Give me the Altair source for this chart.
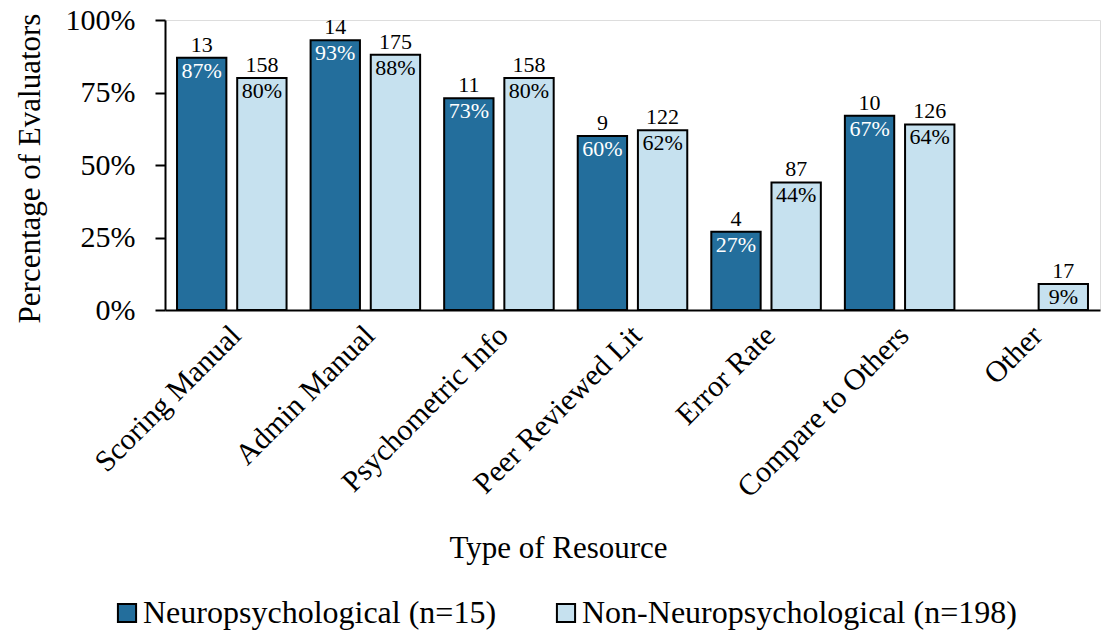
import altair as alt
import pandas as pd

# Resource categories on the x axis
categories = [
    "Scoring Manual", "Admin Manual", "Psychometric Info", "Peer Reviewed Lit",
    "Error Rate", "Compare to Others", "Other",
]
groups = ["Neuropsychological (n=15)", "Non-Neuropsychological (n=198)"]

# Percent of evaluators using each resource, and the raw counts
neuro_pct = [87, 93, 73, 60, 27, 67, None]
neuro_count = [13, 14, 11, 9, 4, 10, None]
non_pct = [80, 88, 80, 62, 44, 64, 9]
non_count = [158, 175, 158, 122, 87, 126, 17]

rows = []
for i, cat in enumerate(categories):
    if neuro_pct[i] is not None:
        rows.append({"cat": cat, "group": groups[0], "pct": neuro_pct[i] / 100, "count": neuro_count[i]})
    rows.append({"cat": cat, "group": groups[1], "pct": non_pct[i] / 100, "count": non_count[i]})
df = pd.DataFrame(rows)

FONT = "Liberation Serif"
DARK = "#236E9C"
LIGHT = "#C6E1EF"

x_enc = alt.X(
    "cat:N", sort=categories,
    scale=alt.Scale(paddingInner=0.18, paddingOuter=0.09),
    axis=alt.Axis(
        title="Type of Resource", labelAngle=-45, labelAlign="right", labelBaseline="top",
        labelPadding=10, labelOffset=-6, labelFontSize=30, labelLimit=600,
        titleFontSize=31, ticks=False,
        titleX=393, titleY=238, titleAlign="center", titleBaseline="middle",
        domainColor="black", domainWidth=2, labelColor="black", titleColor="black",
        titleFontWeight="normal", labelFont=FONT, titleFont=FONT,
    ),
)
xoff_enc = alt.XOffset("group:N", scale=alt.Scale(domain=groups, paddingInner=0.18))
y_enc = alt.Y(
    "pct:Q",
    scale=alt.Scale(domain=[0, 1]),
    axis=alt.Axis(
        title="Percentage of Evaluators", values=[0, 0.25, 0.5, 0.75, 1], format=".0%",
        grid=False, tickSize=10, tickWidth=2, tickColor="black", labelPadding=20,
        labelFontSize=30, titleFontSize=31, domainColor="black", domainWidth=2,
        titleX=-135, titleY=148, titleAngle=-90, titleAlign="center", titleBaseline="middle",
        labelColor="black", titleColor="black", titleFontWeight="normal",
        labelFont=FONT, titleFont=FONT,
    ),
)

bars = alt.Chart(df).mark_bar(stroke="black", strokeWidth=2).encode(
    x=x_enc,
    xOffset=xoff_enc,
    y=y_enc,
    color=alt.Color(
        "group:N",
        scale=alt.Scale(domain=groups, range=[DARK, LIGHT]),
        legend=alt.Legend(
            title=None, orient="none", direction="horizontal", legendX=-54, legendY=577,
            symbolType="square", symbolSize=330, symbolStrokeColor="black",
            symbolStrokeWidth=2, labelFontSize=32, labelFont=FONT, labelColor="black",
            columnPadding=53, labelOffset=0, labelLimit=600,
        ),
    ),
)

count_labels = alt.Chart(df).mark_text(
    baseline="bottom", dy=-1, fontSize=22, font=FONT, color="black"
).encode(x=alt.X("cat:N", sort=categories), xOffset=xoff_enc, y="pct:Q", text="count:Q")

pct_labels = alt.Chart(df).mark_text(
    baseline="top", dy=3, fontSize=22, font=FONT
).encode(
    x=alt.X("cat:N", sort=categories),
    xOffset=xoff_enc,
    y="pct:Q",
    text=alt.Text("pct:Q", format=".0%"),
    color=alt.condition(alt.datum.group == groups[0], alt.value("white"), alt.value("black")),
)

chart = alt.layer(bars, count_labels, pct_labels).properties(
    width=935, height=290,
    autosize=alt.AutoSizeParams(type="none"),
    padding={"left": 165, "top": 20, "right": 4, "bottom": 321},
).configure_view(stroke=None).configure(background="white")

chart.save("out.html", embed_options={"renderer": "svg", "actions": False})
